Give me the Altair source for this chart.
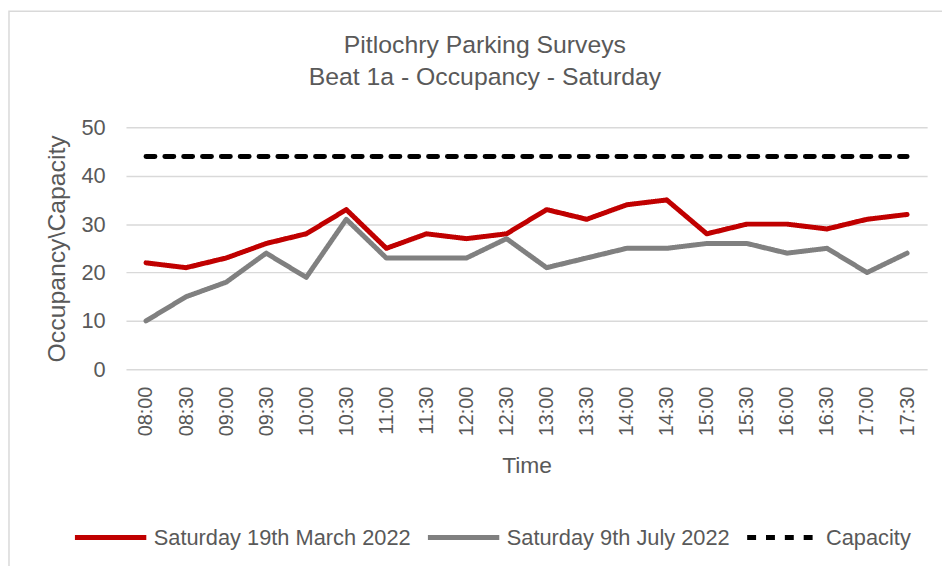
import altair as alt
import pandas as pd

times = ["08:00", "08:30", "09:00", "09:30", "10:00", "10:30", "11:00", "11:30", "12:00", "12:30",
         "13:00", "13:30", "14:00", "14:30", "15:00", "15:30", "16:00", "16:30", "17:00", "17:30"]
march = [22, 21, 23, 26, 28, 33, 25, 28, 27, 28, 33, 31, 34, 35, 28, 30, 30, 29, 31, 32]
july = [10, 15, 18, 24, 19, 31, 23, 23, 23, 27, 21, 23, 25, 25, 26, 26, 24, 25, 20, 24]
capacity = [44] * 20

series_names = ["Saturday 19th March 2022", "Saturday 9th July 2022", "Capacity"]
series_colors = ["#c00000", "#808080", "#000000"]

rows = []
for name, vals in zip(series_names, [march, july, capacity]):
    for t, v in zip(times, vals):
        rows.append({"Time": t, "Value": v, "Series": name})
df = pd.DataFrame(rows)

FONT = "Liberation Sans"
TXT = "#595959"

lines = alt.Chart(df).mark_line(strokeCap="round", strokeJoin="round").encode(
    x=alt.X("Time:O", sort=times, scale=alt.Scale(type="point", padding=0.5),
            axis=alt.Axis(title="Time", labelAngle=-90, labelFontSize=20, labelColor=TXT,
                          titleFontSize=23, titleColor=TXT, titleFontWeight="normal",
                          domain=False, ticks=False, grid=False, labelPadding=17, titlePadding=19,
                          labelFont=FONT, titleFont=FONT)),
    y=alt.Y("Value:Q", scale=alt.Scale(domain=[0, 50]),
            axis=alt.Axis(title="Occupancy\\Capacity", values=[0, 10, 20, 30, 40, 50],
                          labelFontSize=22, labelColor=TXT, titleFontSize=25, titleColor=TXT,
                          titleFontWeight="normal", domain=False, ticks=False,
                          gridColor="#d9d9d9", gridWidth=1.5, labelPadding=21, titlePadding=12,
                          labelFont=FONT, titleFont=FONT)),
    color=alt.Color("Series:N", sort=series_names,
                    scale=alt.Scale(domain=series_names, range=series_colors),
                    legend=alt.Legend(title=None, orient="none", legendX=-54, legendY=375,
                                      direction="horizontal", symbolType="stroke",
                                      symbolSize=5184, symbolStrokeWidth=5,
                                      labelFontSize=22, labelColor=TXT, labelFont=FONT,
                                      labelLimit=0, columnPadding=6, labelOffset=5, padding=0)),
    strokeDash=alt.StrokeDash("Series:N", sort=series_names,
                              scale=alt.Scale(domain=series_names, range=[[1, 0], [1, 0], [9, 10]]),
                              legend=None),
    strokeWidth=alt.StrokeWidth("Series:N", sort=series_names,
                                scale=alt.Scale(domain=series_names, range=[5, 5, 4]),
                                legend=None),
)

border = alt.Chart(pd.DataFrame({"a": [0]})).mark_rect(
    fill=None, stroke="#d9d9d9", strokeWidth=1.5
).encode(x=alt.value(-118), x2=alt.value(830), y=alt.value(-117), y2=alt.value(450))

chart = alt.layer(border, lines).properties(
    width=808, height=244,
    title=alt.TitleParams(text=["Pitlochry Parking Surveys", "Beat 1a - Occupancy - Saturday"],
                          fontSize=25, lineHeight=32, color=TXT, fontWeight="normal",
                          font=FONT, anchor="middle", dx=-42, offset=-80),
    autosize=alt.AutoSizeParams(type="none"),
    padding={"left": 119, "top": 118, "right": 15, "bottom": 196},
).configure_view(stroke=None)

chart.save("out.html", embed_options={"renderer": "svg", "actions": False})
